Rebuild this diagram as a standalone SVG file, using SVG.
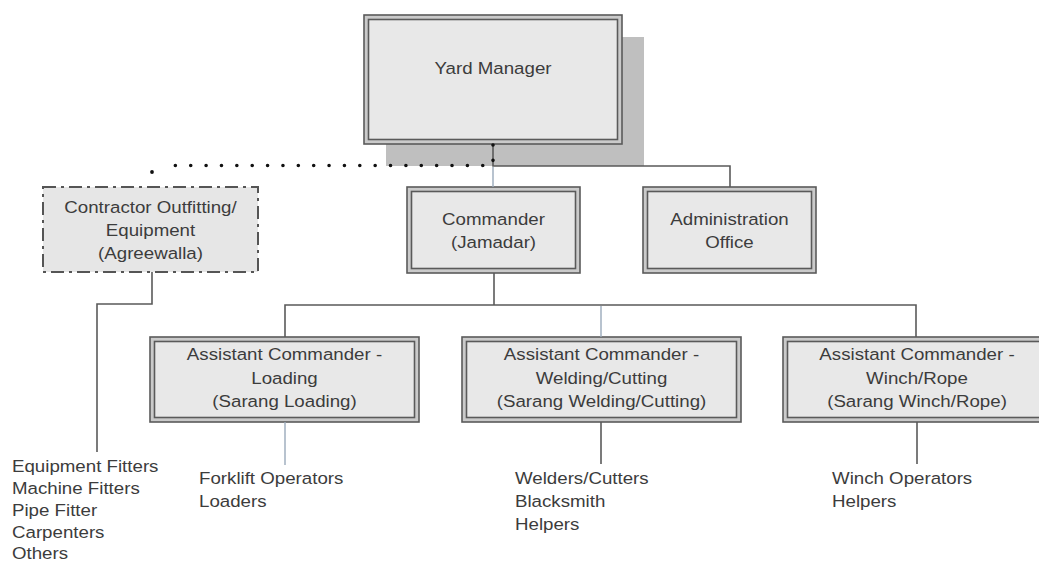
<svg xmlns="http://www.w3.org/2000/svg" width="1039" height="563" viewBox="0 0 1039 563">
<style>
.t{font-family:"Liberation Sans",Arial,sans-serif;font-size:17px;fill:#3c3c3c}
.c{text-anchor:middle}
.ob{fill:#cacaca;stroke:#5a5a5a;stroke-width:1.6}
.ib{fill:#e8e8e8;stroke:#5a5a5a;stroke-width:1.6}
.ln{fill:none;stroke:#5a5a5a;stroke-width:1.6}
.bl{fill:none;stroke:#9aaabb;stroke-width:1.4}
</style>
<rect width="1039" height="563" fill="#ffffff"/>
<g id="yard-manager">
  <rect x="386" y="37" width="258" height="129" fill="#bfbfbf"/>
  <rect class="ob" x="364" y="15" width="258" height="129"/>
  <rect class="ib" x="368.5" y="19.5" width="249" height="120"/>
  <text class="t c" transform="translate(493,0) scale(1.1,1)" x="0" y="74">Yard Manager</text>
</g>
<g id="contractor">
  <rect x="43" y="187" width="215" height="85" fill="#e6e6e6" stroke="#555" stroke-width="2" stroke-dasharray="13 5 3 5"/>
  <text class="t c" transform="translate(150.5,0) scale(1.1,1)"><tspan x="0" y="213">Contractor Outfitting/</tspan><tspan x="0" y="236">Equipment</tspan><tspan x="0" y="259">(Agreewalla)</tspan></text>
</g>
<g id="commander">
  <rect class="ob" x="407" y="187" width="173" height="86"/>
  <rect class="ib" x="411.5" y="191.5" width="164" height="77"/>
  <text class="t c" transform="translate(493.5,0) scale(1.1,1)"><tspan x="0" y="225">Commander</tspan><tspan x="0" y="248">(Jamadar)</tspan></text>
</g>
<g id="admin">
  <rect class="ob" x="643" y="187" width="173" height="86"/>
  <rect class="ib" x="647.5" y="191.5" width="164" height="77"/>
  <text class="t c" transform="translate(729.5,0) scale(1.1,1)"><tspan x="0" y="225">Administration</tspan><tspan x="0" y="248">Office</tspan></text>
</g>
<g id="ac-loading">
  <rect class="ob" x="150" y="337" width="269" height="85"/>
  <rect class="ib" x="154.5" y="341.5" width="260" height="76"/>
  <text class="t c" transform="translate(284.5,0) scale(1.1,1)"><tspan x="0" y="360">Assistant Commander -</tspan><tspan x="0" y="384">Loading</tspan><tspan x="0" y="407">(Sarang Loading)</tspan></text>
</g>
<g id="ac-welding">
  <rect class="ob" x="462" y="337" width="279" height="85"/>
  <rect class="ib" x="466.5" y="341.5" width="270" height="76"/>
  <text class="t c" transform="translate(601.5,0) scale(1.1,1)"><tspan x="0" y="360">Assistant Commander -</tspan><tspan x="0" y="384">Welding/Cutting</tspan><tspan x="0" y="407">(Sarang Welding/Cutting)</tspan></text>
</g>
<g id="ac-winch">
  <rect class="ob" x="783" y="337" width="268" height="85"/>
  <rect class="ib" x="787.5" y="341.5" width="259" height="76"/>
  <text class="t c" transform="translate(917,0) scale(1.1,1)"><tspan x="0" y="360">Assistant Commander -</tspan><tspan x="0" y="384">Winch/Rope</tspan><tspan x="0" y="407">(Sarang Winch/Rope)</tspan></text>
</g>
<g id="contractor-staff">
  <text class="t" transform="translate(12,0) scale(1.1,1)"><tspan x="0" y="472">Equipment Fitters</tspan><tspan x="0" y="494">Machine Fitters</tspan><tspan x="0" y="516">Pipe Fitter</tspan><tspan x="0" y="538">Carpenters</tspan><tspan x="0" y="559">Others</tspan></text>
</g>
<g id="loading-staff">
  <text class="t" transform="translate(199,0) scale(1.1,1)"><tspan x="0" y="484">Forklift Operators</tspan><tspan x="0" y="507">Loaders</tspan></text>
</g>
<g id="welding-staff">
  <text class="t" transform="translate(515,0) scale(1.1,1)"><tspan x="0" y="484">Welders/Cutters</tspan><tspan x="0" y="507">Blacksmith</tspan><tspan x="0" y="530">Helpers</tspan></text>
</g>
<g id="winch-staff">
  <text class="t" transform="translate(832,0) scale(1.1,1)"><tspan x="0" y="484">Winch Operators</tspan><tspan x="0" y="507">Helpers</tspan></text>
</g>
<g id="connectors">
  <path class="ln" d="M493,144 V166 H730 V187"/>
  <path class="bl" d="M493,167 V187"/>
  <path d="M493,145 V165.5 H160" fill="none" stroke="#111" stroke-width="3.6" stroke-linecap="round" stroke-dasharray="0 15.37"/>
  <circle cx="152" cy="172" r="1.9" fill="#111"/>
  <path class="ln" d="M494,273 V305"/>
  <path class="ln" d="M285,337 V305 H916 V337"/>
  <path class="bl" d="M601,306 V337"/>
  <path class="ln" d="M152,272 V304 H97 V452"/>
  <path class="bl" d="M285,422 V465"/>
  <path class="ln" d="M601,422 V464"/>
  <path class="ln" d="M917,422 V464"/>
</g>
</svg>
